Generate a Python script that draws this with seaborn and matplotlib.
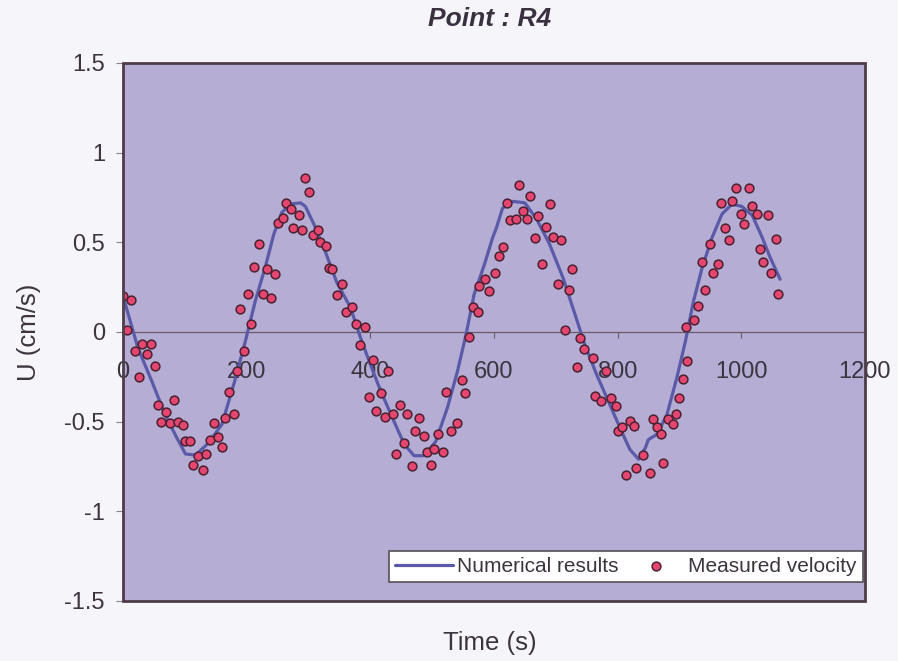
import matplotlib
matplotlib.use("Agg")
import matplotlib.pyplot as plt
from matplotlib.patches import Rectangle
import seaborn as sns
import pandas as pd

# Numerical model output
model_t = [0, 24, 46, 68, 87, 101, 117, 138, 160, 181, 198, 214, 230, 244, 257, 271, 287,
           295, 309, 327, 346, 368, 384, 400, 417, 436, 455, 471, 487, 506, 525, 541, 555,
           568, 585, 598, 604, 614, 631, 650, 669, 690, 712, 731, 747, 766, 785, 804, 820,
           834, 845, 850, 864, 880, 896, 910, 923, 937, 953, 969, 985, 1001, 1018, 1034,
           1047, 1063]
model_u = [0.20, -0.088, -0.27, -0.46, -0.59, -0.68, -0.687, -0.62, -0.515, -0.27, -0.05,
           0.173, 0.36, 0.546, 0.667, 0.713, 0.72, 0.70, 0.60, 0.45, 0.275, 0.136, -0.03,
           -0.18, -0.33, -0.48, -0.627, -0.69, -0.69, -0.61, -0.42, -0.22, -0.013, 0.21,
           0.38, 0.526, 0.58, 0.69, 0.728, 0.72, 0.63, 0.49, 0.30, 0.10, -0.07, -0.236,
           -0.385, -0.535, -0.655, -0.71, -0.646, -0.60, -0.57, -0.46, -0.255, -0.05, 0.173,
           0.36, 0.527, 0.657, 0.713, 0.70, 0.65, 0.527, 0.415, 0.294]

# Measured velocity samples
meas_t = [0, 6.5, 12.5, 19, 25.5, 31, 38, 45, 51, 57, 62, 70, 76, 83, 89, 97, 101, 108,
          114, 121, 129, 134, 140, 147, 153, 160, 165, 172, 179, 184, 189, 196, 202, 207,
          212, 220, 226, 233, 239, 246, 251, 258, 263, 271, 275, 284, 290, 295, 301.6, 307,
          315, 319, 328, 334, 338, 346, 354, 360, 371, 377, 384, 391, 398, 404, 410, 417,
          424, 428, 436, 441, 448, 455, 460, 467, 473, 479, 487, 492, 498, 503, 510, 518,
          522, 530, 541, 548, 554, 560, 566, 574, 576, 585, 592, 601, 608, 615, 621, 626,
          635, 640, 647, 653, 659, 666, 671, 678, 685, 690, 696, 703, 709, 715, 722, 727,
          734, 739, 746, 760, 763, 774, 782, 790, 797, 801, 808, 814, 820, 827, 830, 842,
          852, 857, 864, 870, 874, 882, 889, 895, 900, 906, 911, 913, 924, 931, 937, 942,
          950, 955, 962, 967, 974, 981, 986, 992, 1000, 1005, 1012, 1018, 1025, 1030, 1036,
          1043, 1049, 1056, 1060]
meas_u = [0.20, 0.01, 0.18, -0.106, -0.25, -0.065, -0.125, -0.065, -0.19, -0.41, -0.50,
          -0.445, -0.505, -0.38, -0.50, -0.52, -0.61, -0.61, -0.74, -0.69, -0.77, -0.68,
          -0.605, -0.51, -0.587, -0.64, -0.48, -0.335, -0.46, -0.22, 0.13, -0.106, 0.21,
          0.043, 0.36, 0.49, 0.214, 0.35, 0.19, 0.325, 0.605, 0.635, 0.72, 0.685, 0.58,
          0.654, 0.57, 0.86, 0.78, 0.54, 0.57, 0.50, 0.48, 0.356, 0.35, 0.205, 0.27, 0.11,
          0.14, 0.043, -0.07, 0.03, -0.363, -0.156, -0.44, -0.34, -0.475, -0.218, -0.46,
          -0.68, -0.41, -0.62, -0.456, -0.75, -0.553, -0.48, -0.58, -0.67, -0.743, -0.655,
          -0.57, -0.67, -0.335, -0.55, -0.51, -0.27, -0.343, -0.03, 0.14, 0.113, 0.257,
          0.294, 0.23, 0.326, 0.425, 0.475, 0.717, 0.624, 0.63, 0.82, 0.676, 0.63, 0.76,
          0.523, 0.648, 0.378, 0.587, 0.713, 0.527, 0.266, 0.514, 0.01, 0.233, 0.35, -0.196,
          -0.035, -0.097, -0.143, -0.357, -0.385, -0.22, -0.37, -0.413, -0.553, -0.53,
          -0.795, -0.497, -0.525, -0.758, -0.687, -0.786, -0.484, -0.53, -0.568, -0.73,
          -0.484, -0.516, -0.46, -0.367, -0.264, 0.028, -0.162, 0.065, 0.145, 0.39, 0.233,
          0.49, 0.326, 0.38, 0.717, 0.58, 0.51, 0.73, 0.80, 0.66, 0.60, 0.80, 0.70, 0.66,
          0.46, 0.39, 0.65, 0.33, 0.52, 0.214]

x_ticks = [0, 200, 400, 600, 800, 1000, 1200]
y_ticks = [-1.5, -1, -0.5, 0, 0.5, 1, 1.5]
y_tick_labels = ["-1.5", "-1", "-0.5", "0", "0.5", "1", "1.5"]

model_df = pd.DataFrame({"Time": model_t, "U": model_u})
meas_df = pd.DataFrame({"Time": meas_t, "U": meas_u})

sns.set_theme(style="white")
plt.rcParams["font.family"] = ["Liberation Sans", "DejaVu Sans"]

text_col = "#3c3540"
frame_col = "#4e3c48"

fig = plt.figure(figsize=(8.98, 6.61), dpi=100, facecolor="#f6f5fa")
ax = fig.add_axes([0.137, 0.0908, 0.826, 0.814])
ax.set_facecolor("#b5add4")

sns.lineplot(data=model_df, x="Time", y="U", ax=ax, color="#5a5aa8", linewidth=2.3,
             sort=False, label="Numerical results", zorder=2.8)
sns.scatterplot(data=meas_df, x="Time", y="U", ax=ax, color="#e4466f", edgecolor="#4a2232",
                linewidth=1.1, s=40, label="Measured velocity", zorder=3)

ax.set_xlim(0, 1200)
ax.set_ylim(-1.5, 1.5)
ax.set_xticks(x_ticks)
ax.set_xticklabels([str(v) for v in x_ticks])
ax.set_yticks(y_ticks)
ax.set_yticklabels(y_tick_labels)

# x axis runs along U = 0; the plot box is a separate frame
for side in ["top", "right", "left"]:
    ax.spines[side].set_visible(False)
ax.spines["bottom"].set_position(("data", 0))
ax.spines["bottom"].set_color("#6a5a68")
ax.spines["bottom"].set_linewidth(0.9)
ax.add_patch(Rectangle((0, 0), 1, 1, transform=ax.transAxes, fill=False,
                       edgecolor=frame_col, linewidth=2.0, zorder=4, clip_on=False))

ax.tick_params(axis="x", direction="out", length=4, width=0.8, color="#6a5a68",
               pad=17, labelsize=17, labelcolor=text_col, bottom=True)
ax.tick_params(axis="y", direction="out", length=5, width=0.8, color="#8a8090",
               pad=8, labelsize=17, labelcolor=text_col, left=True)

ax.set_xlabel("")
ax.set_ylabel("U (cm/s)", fontsize=18.5, color=text_col)
ax.yaxis.set_label_coords(-0.11, 0.5)
fig.text(0.545, 0.027, "Time (s)", ha="center", va="center", fontsize=18.5, color=text_col)
fig.text(0.545, 0.972, "Point : R4", ha="center", va="center", fontsize=19,
         fontweight="bold", fontstyle="italic", color="#3a3040")

leg = ax.legend(loc="lower right", ncol=2, frameon=True, fontsize=15, handlelength=2.8,
                columnspacing=0.4, handletextpad=0.15, borderpad=0.3, borderaxespad=0,
                bbox_to_anchor=(0.997, 0.035), fancybox=False, markerscale=1.0)
leg.get_frame().set_facecolor("white")
leg.get_frame().set_edgecolor("#555055")
leg.get_frame().set_linewidth(1.2)
leg.get_frame().set_alpha(1)
for t in leg.get_texts():
    t.set_color(text_col)

fig.savefig("out.png", dpi=100, facecolor=fig.get_facecolor())
